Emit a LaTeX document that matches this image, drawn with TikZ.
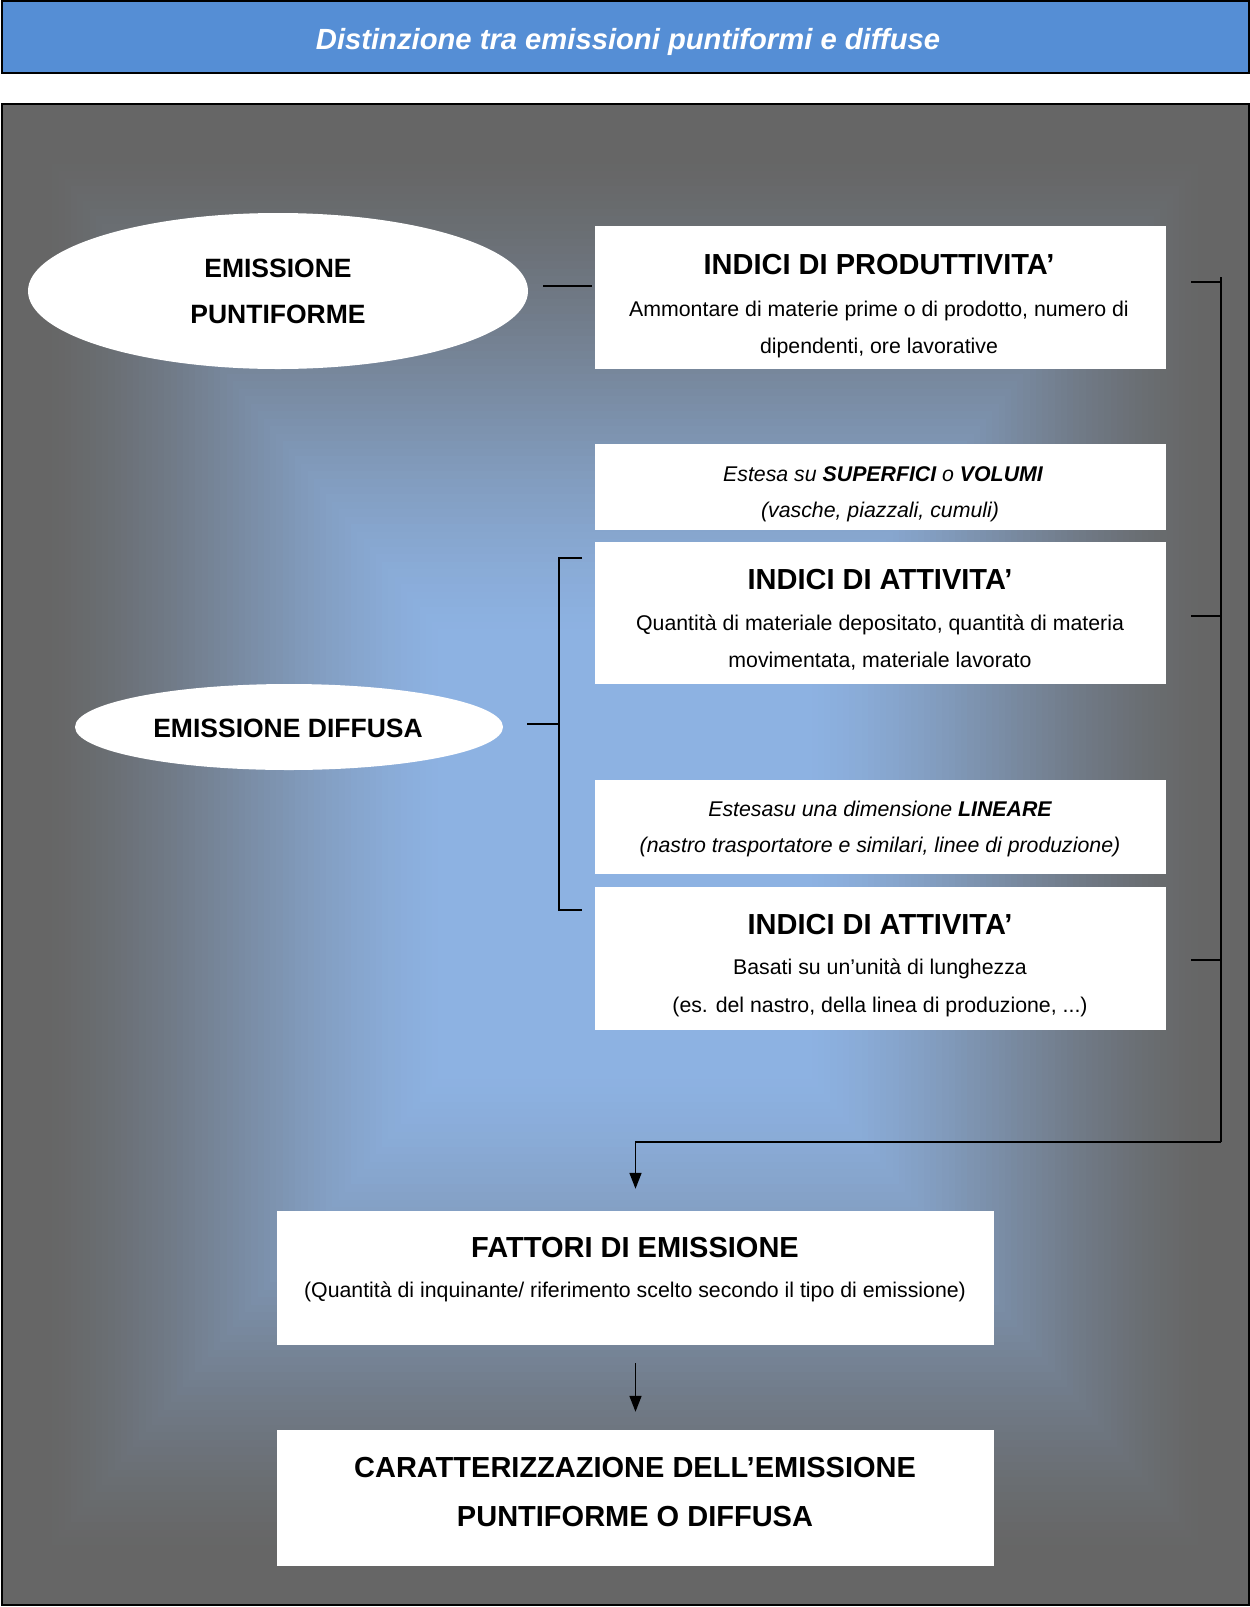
\documentclass[tikz,border=0pt]{standalone}
\usepackage{fontspec}
\setmainfont{Liberation Sans}
\usetikzlibrary{shapes.geometric,arrows.meta}
\definecolor{edgegrey}{RGB}{102,102,102}
\definecolor{centerblue}{RGB}{141,178,226}
\definecolor{barblue}{RGB}{85,142,213}
\begin{document}
\begin{tikzpicture}[x=1pt,y=-1pt,
  box/.style={rectangle, fill=white, inner sep=0pt, minimum width=571pt},
  wbox/.style={rectangle, fill=white, inner sep=0pt, minimum width=717pt},
  ell/.style={ellipse, fill=white, inner sep=0pt},
  hd/.style={anchor=base, inner sep=0pt, font=\fontsize{29}{34}\selectfont\bfseries},
  bd/.style={anchor=base, inner sep=0pt, font=\fontsize{21.3}{26}\selectfont},
  bi/.style={anchor=base, inner sep=0pt, font=\fontsize{21.3}{26}\selectfont\itshape},
  el/.style={anchor=base, inner sep=0pt, font=\fontsize{26.5}{32}\selectfont\bfseries},
  ln/.style={draw=black, line width=1.6pt},
  arr/.style={ln, -{Triangle[width=12pt,length=16pt]}}
]
\useasboundingbox (0,0) rectangle (1250,1607);

% background gradient of the panel
\foreach \i in {0,...,100}{
  \pgfmathsetmacro{\t}{1-\i/100}
  \pgfmathsetmacro{\q}{max(0,min(1,(0.93-\t)/0.63))}
  \pgfmathsetmacro{\p}{100*\q*\q*(3-2*\q)*0.5+50*\q}
  \fill[centerblue!\p!edgegrey] (625-622.5*\t, 854.25-750.5*\t) rectangle (625+622.5*\t, 854.25+750.5*\t);
}
\node[draw=black, line width=2pt, inner sep=0pt, minimum width=1247pt, minimum height=1501.5pt] (panel) at (625,854.25) {};

% title bar
\node[draw=black, fill=barblue, line width=2pt, inner sep=0pt, minimum width=1247pt, minimum height=72pt] (bar) at (625,37) {};
\node[anchor=base, inner sep=0pt, text=white, font=\fontsize{29.2}{34}\selectfont\bfseries\itshape] (title) at (628,49) {Distinzione tra emissioni puntiformi e diffuse};

% ellipses
\node[ell, minimum width=500pt, minimum height=156pt] (e1) at (278,291) {};
\node[el] (e1a) at (278,277) {EMISSIONE};
\node[el] (e1b) at (278,323) {PUNTIFORME};
\node[ell, minimum width=428pt, minimum height=86pt] (e2) at (289,727) {};
\node[el] (e2a) at (288,737) {EMISSIONE DIFFUSA};

% right boxes
\node[box, minimum height=143pt] (b1) at (880.5,297.5) {};
\node[hd] (b1t) at (879,274) {INDICI DI PRODUTTIVITA’};
\node[bd] (b1a) at (879,316) {Ammontare di materie prime o di prodotto, numero di};
\node[bd] (b1b) at (879,353) {dipendenti, ore lavorative};

\node[box, minimum height=86pt] (b2) at (880.5,487) {};
\node[bi] (b2a) at (883,481) {Estesa su \textbf{SUPERFICI} o \textbf{VOLUMI}};
\node[bi] (b2b) at (880,517) {(vasche, piazzali, cumuli)};

\node[box, minimum height=142pt] (b3) at (880.5,613) {};
\node[hd] (b3t) at (880,589) {INDICI DI ATTIVITA’};
\node[bd] (b3a) at (880,630) {Quantità di materiale depositato, quantità di materia};
\node[bd] (b3b) at (880,667) {movimentata, materiale lavorato};

\node[box, minimum height=94pt] (b4) at (880.5,827) {};
\node[bi] (b4a) at (880,816) {Estesasu una dimensione \textbf{LINEARE}};
\node[bi] (b4b) at (880,852) {(nastro trasportatore e similari, linee di produzione)};

\node[box, minimum height=143pt] (b5) at (880.5,958.5) {};
\node[hd] (b5t) at (880,934) {INDICI DI ATTIVITA’};
\node[bd] (b5a) at (880,974) {Basati su un’unità di lunghezza};
\node[bd] (b5b) at (880,1012) {(es. del nastro, della linea di produzione, ...)};

% bottom boxes
\node[wbox, minimum height=134pt] (b6) at (635.5,1278) {};
\node[hd] (b6t) at (635,1257) {FATTORI DI EMISSIONE};
\node[bd] (b6a) at (635,1297) {(Quantità di inquinante/ riferimento scelto secondo il tipo di emissione)};

\node[wbox, minimum height=136pt] (b7) at (635.5,1498) {};
\node[hd] (b7a) at (635,1477) {CARATTERIZZAZIONE DELL’EMISSIONE};
\node[hd] (b7b) at (635,1526) {PUNTIFORME O DIFFUSA};

% connectors
\coordinate (p1a) at (543,286);
\coordinate (p1b) at (592,286);
\draw[ln] (p1a) -- (p1b);

\coordinate (lbT) at (582,558);
\coordinate (lbB) at (582,910);
\coordinate (lbM) at (527,724);
\draw[ln] (lbT) -- (559,558) -- (559,910) -- (lbB);
\draw[ln] (lbM) -- (559,724);

\coordinate (rT) at (1221,277);
\coordinate (rB) at (1221,1142);
\draw[ln] (rT) -- (rB);
\coordinate (r1) at (1191,282);
\coordinate (r2) at (1191,616);
\coordinate (r3) at (1191,960);
\draw[ln] (r1) -- (1221,282);
\draw[ln] (r2) -- (1221,616);
\draw[ln] (r3) -- (1221,960);
\draw[arr, shorten >=22pt] (rB) -| (b6.north);
\draw[arr, shorten <=18pt, shorten >=18pt] (b6.south) -- (b7.north);
\end{tikzpicture}
\end{document}
